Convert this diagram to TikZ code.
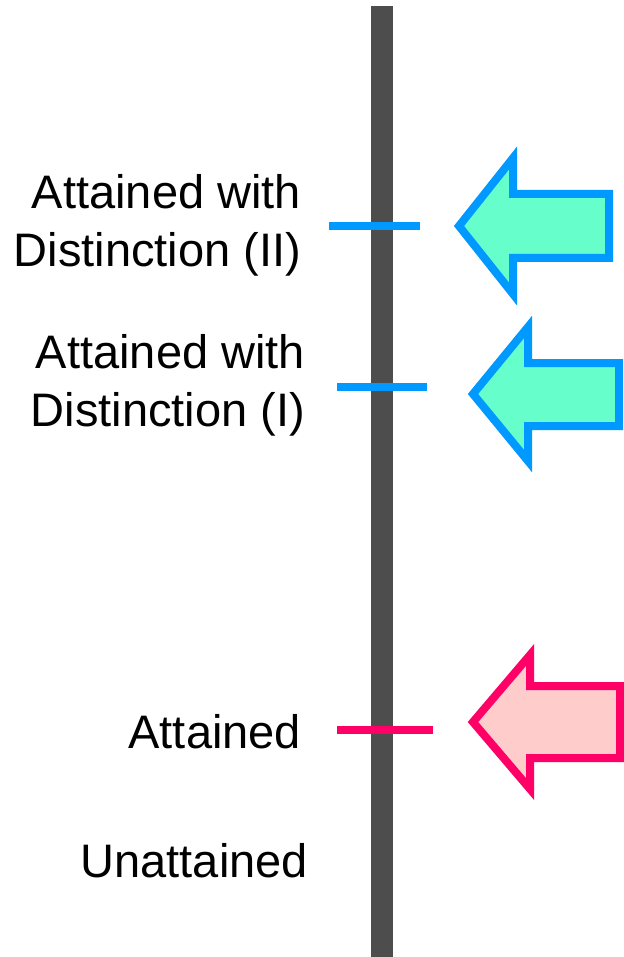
\documentclass[tikz,border=0pt]{standalone}
\usepackage{fontspec}
\setmainfont{Liberation Sans}
\definecolor{barc}{HTML}{4D4D4D}
\definecolor{bluec}{HTML}{0099FF}
\definecolor{greenc}{HTML}{66FFCC}
\definecolor{pinkc}{HTML}{FF0066}
\definecolor{pinkf}{HTML}{FFCCCC}
\tikzset{
  lbl/.style={inner sep=0pt, outer sep=0pt, align=right, font=\fontsize{47}{58}\selectfont},
  tickline/.style={line width=8pt},
  bigarrow/.style={line width=8pt, line join=miter, miter limit=10},
}
\begin{document}
\begin{tikzpicture}[x=1pt,y=-1pt]
\useasboundingbox (0,0) rectangle (623,957);
% scale bar
\fill[barc] (371,6) rectangle (393,957);
\coordinate (bartop) at (382,6);
% ticks
\draw[tickline, bluec] (329,226) coordinate (t2a) -- (420,226) coordinate (t2b);
\draw[tickline, bluec] (337,387) coordinate (t1a) -- (427,387) coordinate (t1b);
\draw[tickline, pinkc] (337,730) coordinate (t0a) -- (433,730) coordinate (t0b);
% labels (base = baseline of last line)
\node[lbl, anchor=base east] (d2) at (301,266) {Attained with\\Distinction (II)};
\node[lbl, anchor=base east] (d1) at (305,426) {Attained with\\Distinction (I)};
\node[lbl, anchor=base east] (at) at (301,748) {Attained};
\node[lbl, anchor=base east] (un) at (308,877) {Unattained};
% arrows
\draw[bigarrow, draw=bluec, fill=greenc]
  (459,226) -- (513,158) -- (513,194) -- (609,194) -- (609,258) -- (513,258) -- (513,294) -- cycle;
\draw[bigarrow, draw=bluec, fill=greenc]
  (473,394) -- (528,327) -- (528,363) -- (619,363) -- (619,426) -- (528,426) -- (528,461) -- cycle;
\draw[bigarrow, draw=pinkc, fill=pinkf]
  (473,722) -- (530,655) -- (530,686) -- (620,686) -- (620,758) -- (530,758) -- (530,789) -- cycle;
\end{tikzpicture}
\end{document}
